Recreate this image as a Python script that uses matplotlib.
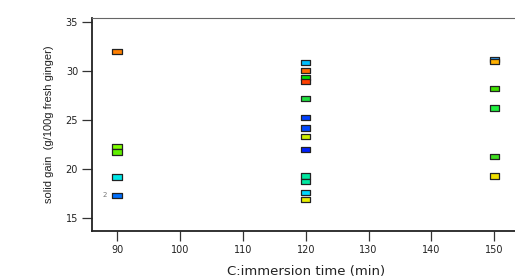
import matplotlib
matplotlib.use("Agg")
import matplotlib.pyplot as plt
from matplotlib.path import Path

times = [90, 90, 90, 90, 90,
         120, 120, 120, 120, 120, 120, 120, 120, 120, 120, 120, 120, 120,
         150, 150, 150, 150, 150, 150]
gains = [32.0, 22.35, 21.75, 19.2, 17.35,
         30.85, 30.1, 29.35, 28.95, 27.2, 25.3, 24.2, 23.3, 22.0, 19.3, 18.75, 17.6, 16.9,
         31.2, 30.95, 28.2, 26.25, 21.3, 19.3]
colors = ["#ff7f00", "#80ff00", "#60f000", "#00e8e8", "#0070ff",
          "#00c0ff", "#ff6a00", "#00e000", "#ff4000", "#20e040", "#0040ff", "#0048ff", "#d0f000", "#0020ff",
          "#00e8a0", "#00e8a0", "#00d8ff", "#e8f000",
          "#30a0ff", "#ffb000", "#40e000", "#20f040", "#40e020", "#f0e000"]

x_ticks = [90, 100, 110, 120, 130, 140, 150]
y_ticks = [15, 20, 25, 30, 35]

fig = plt.figure(figsize=(5.15, 2.8), dpi=100)
ax = fig.add_axes([0.1786, 0.175, 0.83, 0.76])

rect = Path([(-1, -0.55), (1, -0.55), (1, 0.55), (-1, 0.55), (-1, -0.55)],
            [Path.MOVETO, Path.LINETO, Path.LINETO, Path.LINETO, Path.CLOSEPOLY])
ax.scatter(times, gains, marker=rect, s=46, c=colors, edgecolors="#222222",
           linewidths=0.9, zorder=3)

ax.text(88.0, 17.35, "2", fontsize=5, color="#777777", ha="center", va="center")

ax.set_xlim(86, 154)
ax.set_ylim(13.7, 35.4)
ax.set_xticks(x_ticks)
ax.set_yticks(y_ticks)
ax.tick_params(direction="out", length=7, width=0.9, colors="#333333",
               labelsize=7, labelcolor="#222222", pad=3)
for s in ["left", "bottom", "top"]:
    ax.spines[s].set_linewidth(1.3)
    ax.spines[s].set_color("#222222")
ax.spines["right"].set_visible(False)
ax.spines["top"].set_linewidth(0.8)
ax.spines["top"].set_color("#666666")

ax.set_xlabel("C:immersion time (min)", fontsize=9.5, labelpad=7, color="#222222")
ax.set_ylabel("solid gain  (g/100g fresh ginger)", fontsize=8, family="Liberation Sans",
              labelpad=8, color="#222222")

fig.savefig("out.png", dpi=100)
